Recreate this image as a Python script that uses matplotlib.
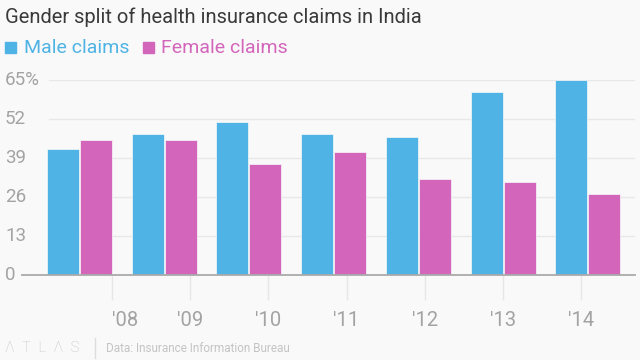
import numpy as np
import matplotlib
matplotlib.use('Agg')
import matplotlib.pyplot as plt
from matplotlib.patches import Rectangle
from matplotlib.transforms import blended_transform_factory

# data
years = ["'08", "'09", "'10", "'11", "'12", "'13", "'14"]
male = [42, 47, 51, 47, 46, 61, 65]
female = [45, 45, 37, 41, 32, 31, 27]
y_ticks = [0, 13, 26, 39, 52, 65]
y_labels = ['0', '13', '26', '39', '52', '65%']

BLUE = '#4fb3e5'
PINK = '#d366ba'
BG = '#f9f9f9'

plt.rcParams['font.family'] = ['Roboto', 'DejaVu Sans']

fig = plt.figure(figsize=(6.4, 3.6), dpi=100, facecolor=BG)
ax = fig.add_axes([22/640, 85/360, 613/640, 195/360])
ax.set_facecolor(BG)

x = np.arange(len(years))
w = 0.378
ax.bar(x - 0.195, male, w, color=BLUE, edgecolor=BG, linewidth=0.5, zorder=2)
ax.bar(x + 0.195, female, w, color=PINK, edgecolor=BG, linewidth=0.5, zorder=2)

ax.set_xlim(-0.679, 6.558)
ax.set_ylim(0, 65)

for t in y_ticks[1:]:
    ax.axhline(t, xmin=0.044, xmax=1, color='#e8e8e8', lw=1, zorder=0)
ax.axhline(0, color='#aaaaaa', lw=1.3, zorder=3, clip_on=False)

for s in ax.spines.values():
    s.set_visible(False)
ax.set_yticks([])

trans = blended_transform_factory(fig.transFigure, ax.transData)
for t, lab in zip(y_ticks, y_labels):
    ax.text(5/640, t, lab, transform=trans, ha='left', va='center',
            fontsize=13.5, color='#a3a3a3')

# year ticks sit on their own time scale, offset from the bar groups
tick_pos = 0.384 + 0.923 * x
ax.set_xticks(tick_pos, years)
ax.tick_params(axis='x', length=18, width=1, color='#e6e6e6', pad=8,
               labelsize=14.5, labelcolor='#a3a3a3')
ax.get_xticklabels()[0].set_horizontalalignment('left')

fig.text(5/640, 1 - 17/360, 'Gender split of health insurance claims in India',
         ha='left', va='center', fontsize=14.5, color='#3a3a3a')

fig.add_artist(Rectangle((5/640, 1 - 53/360), 11/640, 11/360,
                         transform=fig.transFigure, color=BLUE))
fig.text(24/640, 1 - 48/360, 'Male claims', ha='left', va='center',
         fontsize=14, color=BLUE)
fig.add_artist(Rectangle((143/640, 1 - 53/360), 11/640, 11/360,
                         transform=fig.transFigure, color=PINK))
fig.text(161/640, 1 - 48/360, 'Female claims', ha='left', va='center',
         fontsize=14, color=PINK)

fig.text(5/640, 1 - 348/360, 'Λ  T  L  Λ  S', ha='left', va='center',
         fontsize=11, color='#c4c4c4', fontweight='light')
fig.add_artist(plt.Line2D([95/640, 95/640], [1 - 358/360, 1 - 338/360],
                          transform=fig.transFigure, color='#dddddd', lw=1))
fig.text(106/640, 1 - 348/360, 'Data: Insurance Information Bureau', ha='left',
         va='center', fontsize=8.5, color='#c4c4c4')

fig.savefig('out.png', dpi=100, facecolor=BG)
